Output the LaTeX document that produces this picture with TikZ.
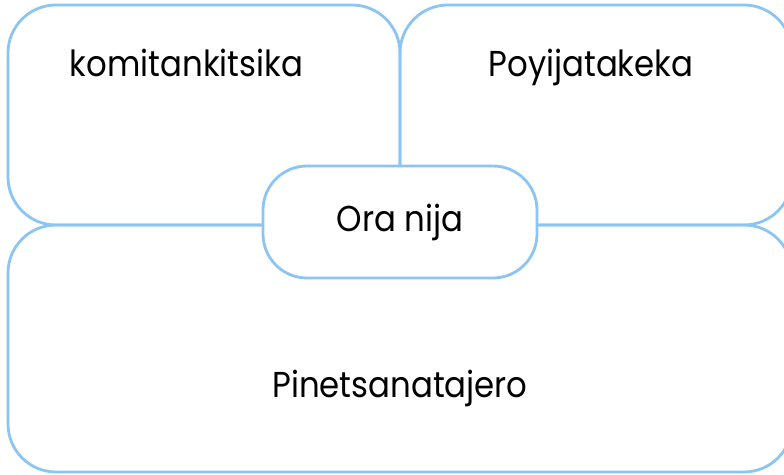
\documentclass[tikz,border=0pt]{standalone}
\usepackage{fontspec}
\setmainfont{Poppins}[FakeStretch=0.9]
\definecolor{edgeblue}{RGB}{140,196,242}
\begin{document}
\begin{tikzpicture}
[x=1pt,y=1pt,
  boxdecorate/.style={shape=rectangle,draw=edgeblue,line width=2.8pt,
    rounded corners=48pt,inner sep=0pt},%
  textdecorate/.style={font=\fontsize{36}{42}\selectfont,text=black}]
\useasboundingbox (0,0) rectangle (784,474);
%% boxes
\foreach \nodename/\x/\y/\w/\h in {tl/204/359/392/220,
  tr/596/359/392/220, bot/400/125.5/784/247} {
  \node (\nodename) at (\x,\y) [boxdecorate,minimum width=\w pt,minimum height=\h pt] {};
}
%% centre
\node (centre) at (400,252) [boxdecorate,fill=white,rounded corners=44pt,
  minimum width=274pt,minimum height=112pt,textdecorate] {Ora nija};
%% labels
\foreach \nodename/\x/\y/\txt in {tllabel/186.5/397/komitankitsika,
  trlabel/591/397/Poyijatakeka, botlabel/400/77/Pinetsanatajero} {
  \node (\nodename) at (\x,\y) [textdecorate,anchor=base] {\txt};
}
\end{tikzpicture}
\end{document}
